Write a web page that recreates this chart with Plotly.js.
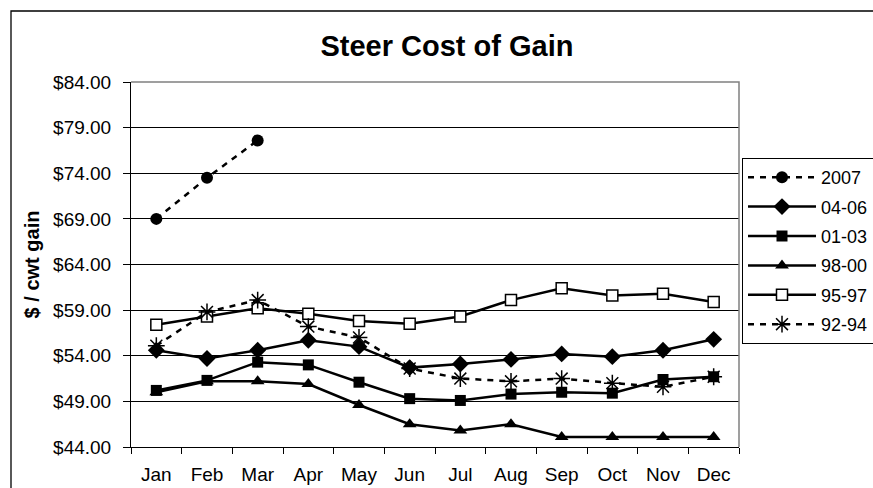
<!DOCTYPE html>
<html>
<head>
<meta charset="utf-8">
<script src="https://cdn.plot.ly/plotly-3.0.1.min.js"></script>
<style>html,body{margin:0;padding:0;background:#fff;}#chart{width:873px;height:488px;}</style>
</head>
<body>
<div id="chart"></div>
<script>
const months = ['Jan','Feb','Mar','Apr','May','Jun','Jul','Aug','Sep','Oct','Nov','Dec'];
const s2007 = [69.0, 73.5, 77.6, null, null, null, null, null, null, null, null, null];
const s0406 = [54.6, 53.7, 54.6, 55.7, 55.0, 52.7, 53.1, 53.6, 54.2, 53.9, 54.6, 55.8];
const s0103 = [50.2, 51.3, 53.3, 53.0, 51.1, 49.3, 49.1, 49.8, 50.0, 49.9, 51.4, 51.7];
const s9800 = [50.0, 51.2, 51.2, 50.9, 48.6, 46.5, 45.8, 46.5, 45.1, 45.1, 45.1, 45.1];
const s9597 = [57.4, 58.3, 59.2, 58.6, 57.8, 57.5, 58.3, 60.1, 61.4, 60.6, 60.8, 59.9];
const s9294 = [55.1, 58.8, 60.1, 57.2, 56.0, 52.6, 51.5, 51.2, 51.5, 51.0, 50.6, 51.7];
const seriesNames = ['2007','04-06','01-03','98-00','95-97','92-94'];
const yTicks = [44, 49, 54, 59, 64, 69, 74, 79, 84];
const yTickText = yTicks.map(v => '$' + v.toFixed(2));

const FONT = 'Liberation Sans, Arial, sans-serif';
const dashPat = '6px,6px';

function tr(name, y, sym, opts) {
  opts = opts || {};
  return {
    type: 'scatter', mode: 'lines+markers', name: name, legendgroup: name, x: months, y: y,
    line: {color: '#000', width: 2.5, dash: opts.dash || 'solid'},
    marker: {symbol: sym, size: opts.size || 11, color: opts.fill || '#000',
             line: {color: '#000', width: opts.mlw || 0}},
    connectgaps: false
  };
}

const data = [
  tr(seriesNames[0], s2007, 'circle', {dash: dashPat, size: 12}),
  tr(seriesNames[1], s0406, 'diamond', {size: 13}),
  tr(seriesNames[2], s0103, 'square', {size: 11}),
  tr(seriesNames[3], s9800, 'triangle-up', {size: 12}),
  tr(seriesNames[4], s9597, 'square', {size: 11, fill: '#fff', mlw: 1.5}),
  tr(seriesNames[5], s9294, 'asterisk-open', {dash: dashPat, size: 14, mlw: 1.5})
];

const layout = {
  width: 873, height: 488,
  margin: {l: 131, r: 134, t: 82, b: 41},
  paper_bgcolor: '#fff', plot_bgcolor: '#fff',
  font: {family: FONT, color: '#000', size: 19},
  title: {text: '<b>Steer Cost of Gain</b>', font: {family: FONT, size: 29, color: '#000'},
          x: 0.512, xref: 'container', xanchor: 'center', y: 0.907, yref: 'container', yanchor: 'middle'},
  xaxis: {
    type: 'category', tickson: 'boundaries', ticks: 'outside', ticklen: 6, tickcolor: '#000',
    ticklabelstandoff: 10,
    showline: true, linecolor: '#000', linewidth: 1, showgrid: false, zeroline: false,
    tickfont: {family: FONT, size: 19, color: '#000'}, range: [-0.5, 11.5], fixedrange: true
  },
  yaxis: {
    range: [44, 84], tickmode: 'array', tickvals: yTicks, ticktext: yTickText,
    ticks: 'outside', ticklen: 7, tickcolor: '#000', ticklabelstandoff: 8,
    showline: true, linecolor: '#000', linewidth: 1,
    showgrid: true, gridcolor: '#000', gridwidth: 1, zeroline: false,
    tickfont: {family: FONT, size: 19, color: '#000'},
    title: {text: '<b>$ / cwt gain</b>', font: {family: FONT, size: 20, color: '#000'}, standoff: 8}
  },
  showlegend: true,
  legend: {
    xref: 'container', yref: 'container',
    x: 742/873, xanchor: 'left', y: 1 - 158/488, yanchor: 'top',
    bordercolor: '#000', borderwidth: 1, bgcolor: '#fff',
    font: {family: FONT, size: 18, color: '#000'},
    itemwidth: 68, tracegroupgap: 3
  },
  shapes: [
    {type: 'rect', xref: 'paper', yref: 'paper', x0: -120/608, x1: 800/608, y0: -60/365, y1: 1 + 71/365,
     line: {color: '#000', width: 1.3}, fillcolor: 'rgba(0,0,0,0)', layer: 'below'},
    {type: 'path', xref: 'paper', yref: 'paper', path: 'M 0 1 L 1 1 L 1 0',
     line: {color: '#808080', width: 1.5}, layer: 'above'}
  ]
};

Plotly.newPlot('chart', data, layout, {displayModeBar: false, staticPlot: true});
</script>
</body>
</html>
